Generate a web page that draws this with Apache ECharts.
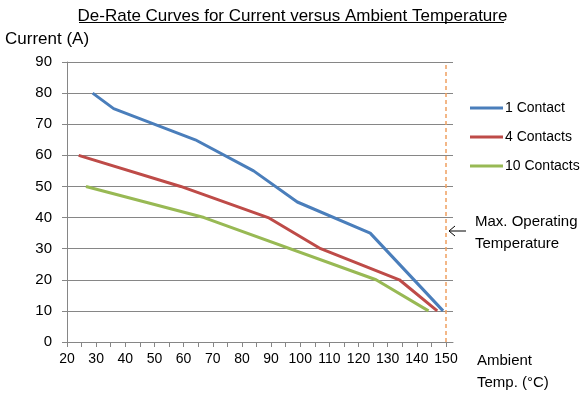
<!DOCTYPE html>
<html>
<head>
<meta charset="utf-8">
<script src="https://cdn.jsdelivr.net/npm/echarts@6/dist/echarts.min.js"></script>
<style>
  html, body { margin: 0; padding: 0; background: #fff; }
  #chart { width: 585px; height: 397px; }
</style>
</head>
<body>
<div id="chart"></div>
<script>
// ambient temperature (°C) / current (A) pairs
const oneContactTemp = [28.8, 36, 64, 84, 99, 124, 149];
const oneContactAmps = [80, 75, 65, 55, 45, 35, 10];
const fourContactTemp = [24, 59, 89, 107, 134, 147];
const fourContactAmps = [60, 50, 40, 30, 20, 10];
const tenContactTemp = [26.5, 67, 126, 144];
const tenContactAmps = [50, 40, 20, 10];

const seriesNames = ['1 Contact', '4 Contacts', '10 Contacts'];
const colorList = ['#4A7EBB', '#BE4B48', '#98B954'];
const maxOperatingTemp = 150;

const xTicks = [20, 25, 30, 35, 40, 45, 50, 55, 60, 65, 70, 75, 80, 85, 90, 95, 100,
  105, 110, 115, 120, 125, 130, 135, 140, 145, 150];
const xLabels = [20, 30, 40, 50, 60, 70, 80, 90, 100, 110, 120, 130, 140, 150];

const font = '"Liberation Sans", sans-serif';

const zip = (xs, ys) => xs.map((x, i) => [x, ys[i]]);

const chart = echarts.init(document.getElementById('chart'));

const lineSeries = (name, data, idx) => ({
  name: name,
  type: 'line',
  data: data,
  symbol: 'none',
  lineStyle: { width: 3, color: colorList[idx] },
  itemStyle: { color: colorList[idx] }
});

const series = [
  lineSeries(seriesNames[0], zip(oneContactTemp, oneContactAmps), 0),
  lineSeries(seriesNames[1], zip(fourContactTemp, fourContactAmps), 1),
  lineSeries(seriesNames[2], zip(tenContactTemp, tenContactAmps), 2)
];
// dashed marker for the max operating temperature
series[0].markLine = {
  silent: true,
  symbol: ['none', 'none'],
  label: { show: false },
  lineStyle: { type: [4, 3], color: '#F0A060', width: 1.5 },
  data: [{ xAxis: maxOperatingTemp }]
};

chart.setOption({
  animation: false,
  backgroundColor: '#fff',
  textStyle: { fontFamily: font },
  title: {
    text: 'De-Rate Curves for Current versus Ambient Temperature',
    left: 'center',
    top: 3,
    textStyle: { fontFamily: font, fontSize: 17, fontWeight: 'normal', color: '#000' }
  },
  grid: { left: 67, right: 132, top: 62, bottom: 55 },
  legend: {
    orient: 'vertical',
    left: 465,
    top: 95,
    icon: 'rect',
    itemWidth: 33,
    itemHeight: 3,
    itemGap: 13,
    textStyle: { fontFamily: font, fontSize: 14, color: '#000', lineHeight: 16, padding: [0, 0, 0, -3] },
    data: seriesNames
  },
  xAxis: {
    type: 'value',
    min: 20,
    max: 152.4,
    name: 'Ambient\nTemp. (°C)',
    nameLocation: 'end',
    nameGap: 24,
    nameTextStyle: {
      fontFamily: font, fontSize: 15, color: '#000',
      align: 'left', verticalAlign: 'top', lineHeight: 22, padding: [8, 0, 0, 0]
    },
    axisLine: { lineStyle: { color: '#868686' } },
    axisTick: { show: true, length: 5, customValues: xTicks, lineStyle: { color: '#868686' } },
    axisLabel: { customValues: xLabels, margin: 10, fontSize: 14, color: '#000' },
    splitLine: { show: false }
  },
  yAxis: {
    type: 'value',
    min: 0,
    max: 90,
    interval: 10,
    axisLine: { show: true, lineStyle: { color: '#868686' } },
    axisTick: { show: true, length: 5, lineStyle: { color: '#868686' } },
    axisLabel: { margin: 15, fontSize: 15, color: '#000' },
    splitLine: { lineStyle: { color: '#868686' } }
  },
  graphic: [
    // title underline
    { type: 'line', shape: { x1: 79, y1: 22.5, x2: 504, y2: 22.5 }, style: { stroke: '#000', lineWidth: 1 } },
    { type: 'text', left: 5, top: 31, style: { text: 'Current (A)', font: '17px ' + font, fill: '#000' } },
    // arrow pointing at the dashed line
    { type: 'polyline', shape: { points: [[455, 226], [449, 231], [455, 236]] }, style: { stroke: '#000', fill: 'none', lineWidth: 1 } },
    { type: 'line', shape: { x1: 449, y1: 231, x2: 466, y2: 231 }, style: { stroke: '#000', lineWidth: 1 } },
    { type: 'text', left: 475, top: 211, style: { text: 'Max. Operating\nTemperature', font: '15px ' + font, lineHeight: 22, fill: '#000' } }
  ],
  series: series
});
</script>
</body>
</html>
